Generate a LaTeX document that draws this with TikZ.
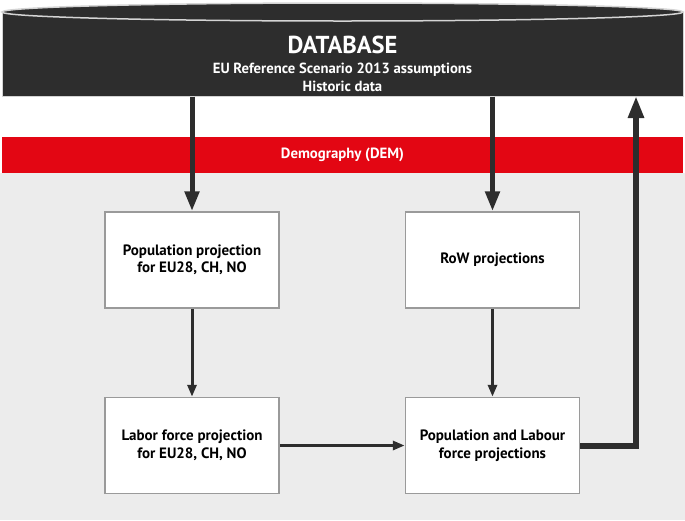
\documentclass[tikz,border=0pt]{standalone}
\usepackage{fontspec}
\setmainfont{PT Sans}
\usepackage{xcolor}
\usepackage{tikz}
\usetikzlibrary{arrows.meta}
\definecolor{dbdark}{HTML}{2D2D2D}
\definecolor{dbedge}{HTML}{D4D4D4}
\definecolor{demred}{HTML}{E30613}
\definecolor{bggray}{HTML}{ECECEC}
\definecolor{boxline}{HTML}{9A9A9A}

\begin{document}
\begin{tikzpicture}[x=1pt,y=-1pt,
	projbox/.style={draw=boxline,line width=1.5pt,fill=white,minimum width=174pt,minimum height=96pt,align=center,font=\bfseries\fontsize{15}{17.5}\selectfont},
	feed/.style={draw=dbdark,line width=5pt,-{Triangle[width=14pt,length=20pt]}},
	flow/.style={draw=dbdark,line width=3pt,-{Triangle[width=9pt,length=12pt]}}]
	\useasboundingbox (0,0) rectangle (685,520);
	\fill[bggray] (0,173) rectangle (685,520);
	% database cylinder
	\node[fill=dbdark,draw=dbedge,line width=1pt,minimum width=681pt,minimum height=84pt,inner sep=0pt] (db) at (342.5,54) {};
	\draw[fill=dbdark,draw=dbedge,line width=1.5pt] (342.5,12) ellipse [x radius=340.5pt,y radius=9pt];
	\node[text=white,font=\bfseries\fontsize{24.5}{28}\selectfont] (dbtitle) at (342.5,45) {DATABASE};
	\node[text=white,align=center,font=\bfseries\fontsize{14.7}{18}\selectfont] (dbnote) at (342.5,77) {EU Reference Scenario 2013 assumptions\\Historic data};
	% module band
	\node[fill=demred,text=white,minimum width=681pt,minimum height=36pt,inner sep=0pt,font=\bfseries\fontsize{14.8}{17}\selectfont] (dem) at (342.5,155) {Demography (DEM)};
	% projections
	\node[projbox] (popeu) at (192,260) {Population projection\\for EU28, CH, NO};
	\node[projbox] (row) at (492.5,260) {RoW projections};
	\node[projbox] (labeu) at (192,445.5) {Labor force projection\\for EU28, CH, NO};
	\node[projbox] (poplab) at (492.5,445.5) {Population and Labour\\force projections};
	\coordinate (dbin) at (636,96);
	\draw[feed] (db.south -| popeu.north) -- (popeu.north);
	\draw[feed] (db.south -| row.north) -- (row.north);
	\draw[flow] (popeu) -- (labeu);
	\draw[flow] (row) -- (poplab);
	\draw[flow] (labeu) -- (poplab);
	\draw[feed,line width=6pt,-{Triangle[width=15pt,length=22pt]}] (poplab.east) -| (dbin);
\end{tikzpicture}
\end{document}
